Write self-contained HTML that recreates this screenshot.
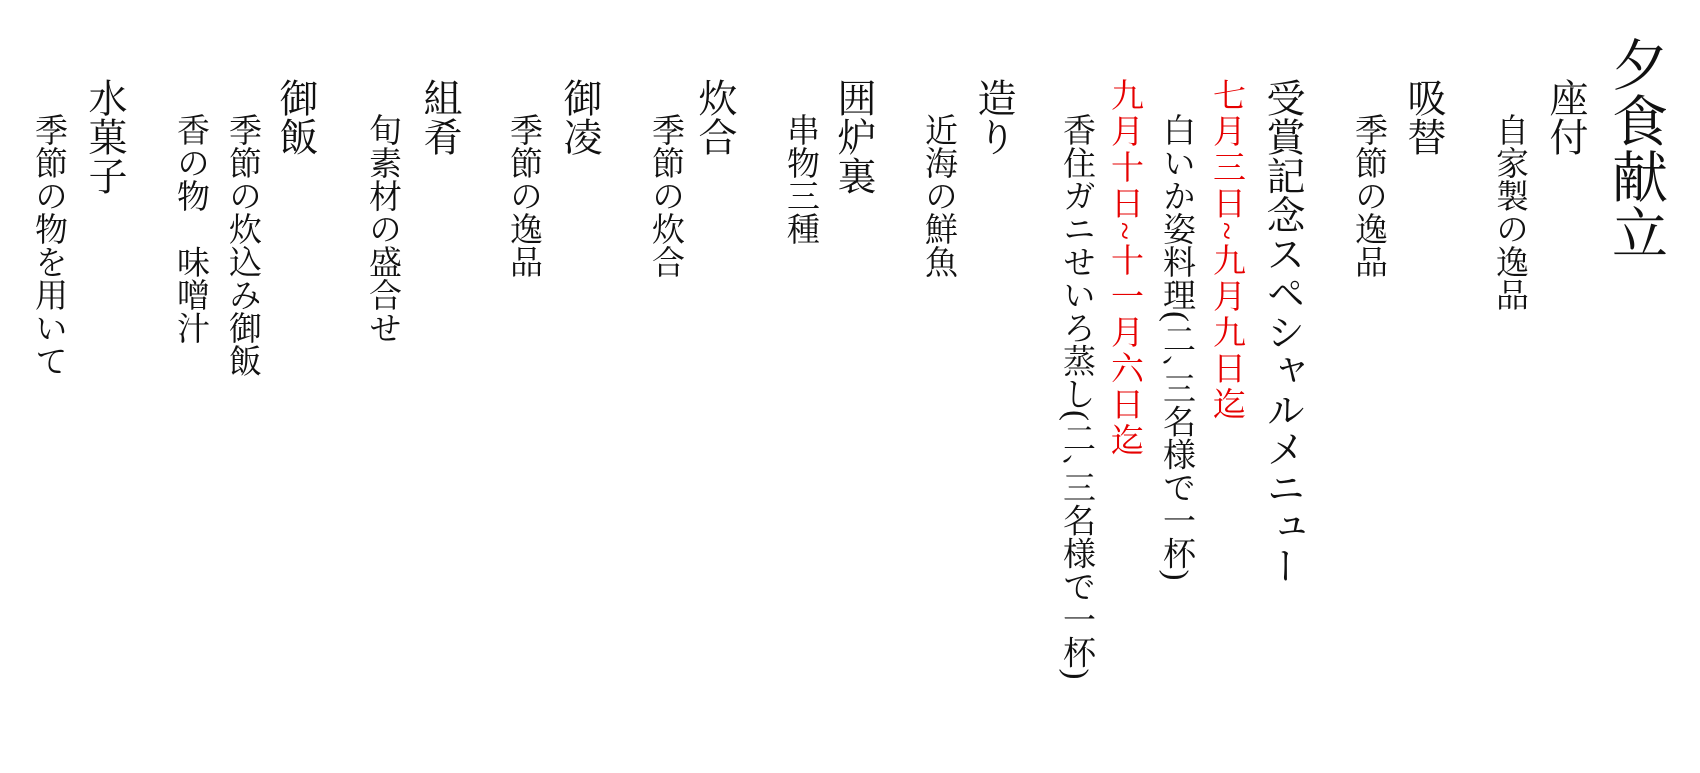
<!DOCTYPE html>
<html><head><meta charset="utf-8">
<style>
html,body{margin:0;padding:0;background:#fff;}
body{width:1700px;height:700px;position:relative;overflow:hidden;
font-family:"Liberation Serif","Noto Serif CJK SC",serif;color:#111;}
.c{position:absolute;writing-mode:vertical-rl;text-orientation:mixed;line-height:1;white-space:nowrap;height:660px;}
.t{font-size:56px;width:56px;top:36px;}
.h{font-size:39px;width:39px;top:78px;}
.i{font-size:33px;width:33px;top:113px;}
.r{font-size:33px;width:33px;top:78px;color:#e60000;letter-spacing:3px;}
</style></head><body>
<div class="c t" style="left:1607px">夕食献立</div>
<div class="c h" style="left:1546px">座付</div>
<div class="c i" style="left:1492px">自家製の逸品</div>
<div class="c h" style="left:1404px">吸替</div>
<div class="c i" style="left:1351px">季節の逸品</div>
<div class="c h" style="left:1263px">受賞記念スペシャルメニュー</div>
<div class="c r" style="left:1209px">七月三日~九月九日迄</div>
<div class="c i" style="left:1159px">白いか姿料理(二､三名様で一杯)</div>
<div class="c r" style="left:1107px">九月十日~十一月六日迄</div>
<div class="c i" style="left:1059px">香住ガニせいろ蒸し(二､三名様で一杯)</div>
<div class="c h" style="left:974px">造り</div>
<div class="c i" style="left:921px">近海の鮮魚</div>
<div class="c h" style="left:834px">囲炉裏</div>
<div class="c i" style="left:783px">串物三種</div>
<div class="c h" style="left:695px">炊合</div>
<div class="c i" style="left:648px">季節の炊合</div>
<div class="c h" style="left:560px">御凌</div>
<div class="c i" style="left:506px">季節の逸品</div>
<div class="c h" style="left:420px">組肴</div>
<div class="c i" style="left:365px">旬素材の盛合せ</div>
<div class="c h" style="left:276px">御飯</div>
<div class="c i" style="left:225px">季節の炊込み御飯</div>
<div class="c i" style="left:173px">香の物　味噌汁</div>
<div class="c h" style="left:85px">水菓子</div>
<div class="c i" style="left:31px">季節の物を用いて</div>
</body></html>
